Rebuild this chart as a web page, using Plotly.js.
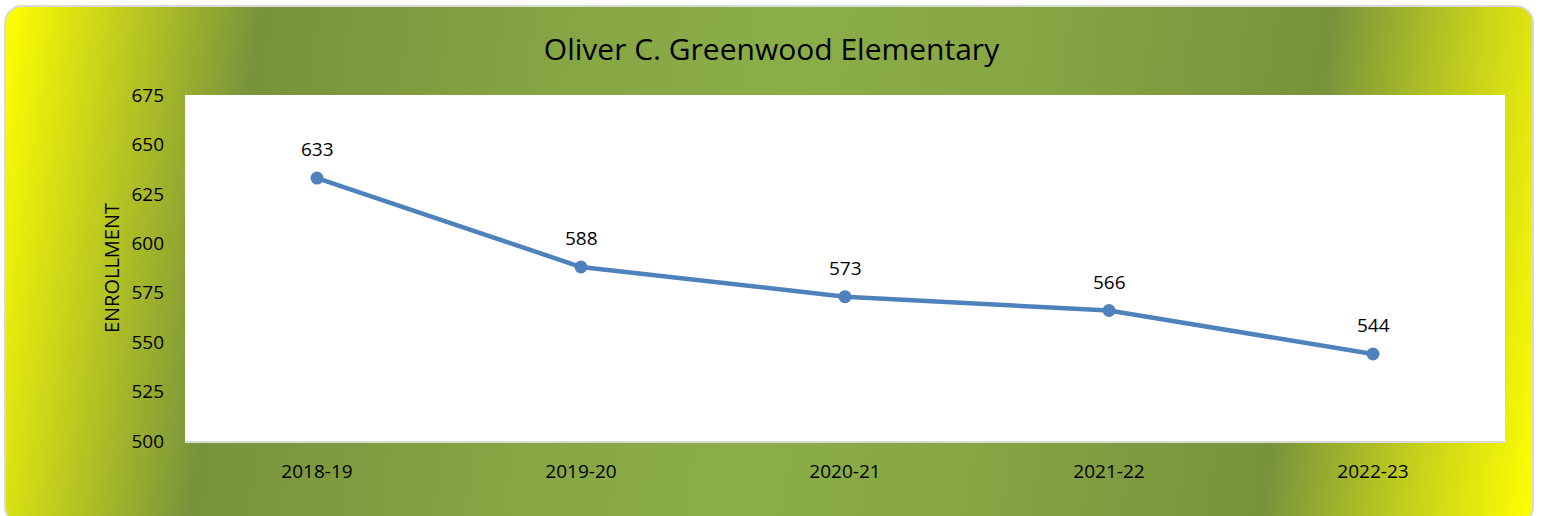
<!DOCTYPE html>
<html>
<head>
<meta charset="utf-8">
<script src="https://cdn.plot.ly/plotly-3.0.1.min.js"></script>
<style>
  html, body { margin: 0; padding: 0; background: #ffffff; }
  #frame {
    position: absolute; left: 4px; top: 5px; width: 1530px; height: 520px;
    border: 2px solid #d9d9d9; border-radius: 18px; box-sizing: border-box;
    background: linear-gradient(98deg, #ffff00 0%, #c4cf1c 7%, #77933c 16%, #86a543 35%, #8bae48 50%, #86a543 65%, #77933c 83%, #c4cf1c 92%, #ffff00 100%);
    overflow: hidden;
  }
  #chart { position: absolute; left: 0; top: 0; width: 1543px; height: 516px; }
</style>
</head>
<body>
<div id="frame"></div>
<div id="chart"></div>
<script>
const years = ["2018-19", "2019-20", "2020-21", "2021-22", "2022-23"];
const enrollment = [633, 588, 573, 566, 544];
const yTicks = [500, 525, 550, 575, 600, 625, 650, 675];
const chartTitle = "Oliver C. Greenwood Elementary";
const yTitle = "ENROLLMENT";

const font = "Open Sans, Liberation Sans, sans-serif";

const trace = {
  x: years,
  y: enrollment,
  type: "scatter",
  mode: "lines+markers",
  line: { color: "#4f81bd", width: 4.5 },
  marker: { color: "#4f81bd", size: 13 },
  hoverinfo: "x+y"
};

const annotations = years.map((yr, i) => ({
  x: yr, y: enrollment[i], xref: "x", yref: "y",
  text: String(enrollment[i]), showarrow: false,
  yshift: 29, font: { family: font, size: 19, color: "#000" }
}));

const layout = {
  width: 1543, height: 516,
  margin: { l: 185, r: 38, t: 95, b: 75 },
  paper_bgcolor: "rgba(0,0,0,0)",
  plot_bgcolor: "#ffffff",
  showlegend: false,
  title: { text: chartTitle, x: 0.5, xanchor: "center", y: 0.905, yanchor: "middle",
           font: { family: font, size: 30, color: "#000" } },
  xaxis: {
    type: "category", range: [-0.5, 4.5],
    showgrid: false, zeroline: false,
    showline: true, linecolor: "#d9d9d9", linewidth: 2,
    ticks: "", tickfont: { family: font, size: 19, color: "#000" },
    ticklabelstandoff: 12
  },
  yaxis: {
    range: [500, 675], tickvals: yTicks, ticktext: yTicks.map(String),
    showgrid: false, zeroline: false, showline: false, ticks: "",
    tickfont: { family: font, size: 19, color: "#000" },
    ticklabelstandoff: 20,
    title: { text: yTitle, font: { family: font, size: 20, color: "#000" }, standoff: 6 }
  },
  annotations: annotations
};

Plotly.newPlot("chart", [trace], layout, { displayModeBar: false, staticPlot: true });
</script>
</body>
</html>
